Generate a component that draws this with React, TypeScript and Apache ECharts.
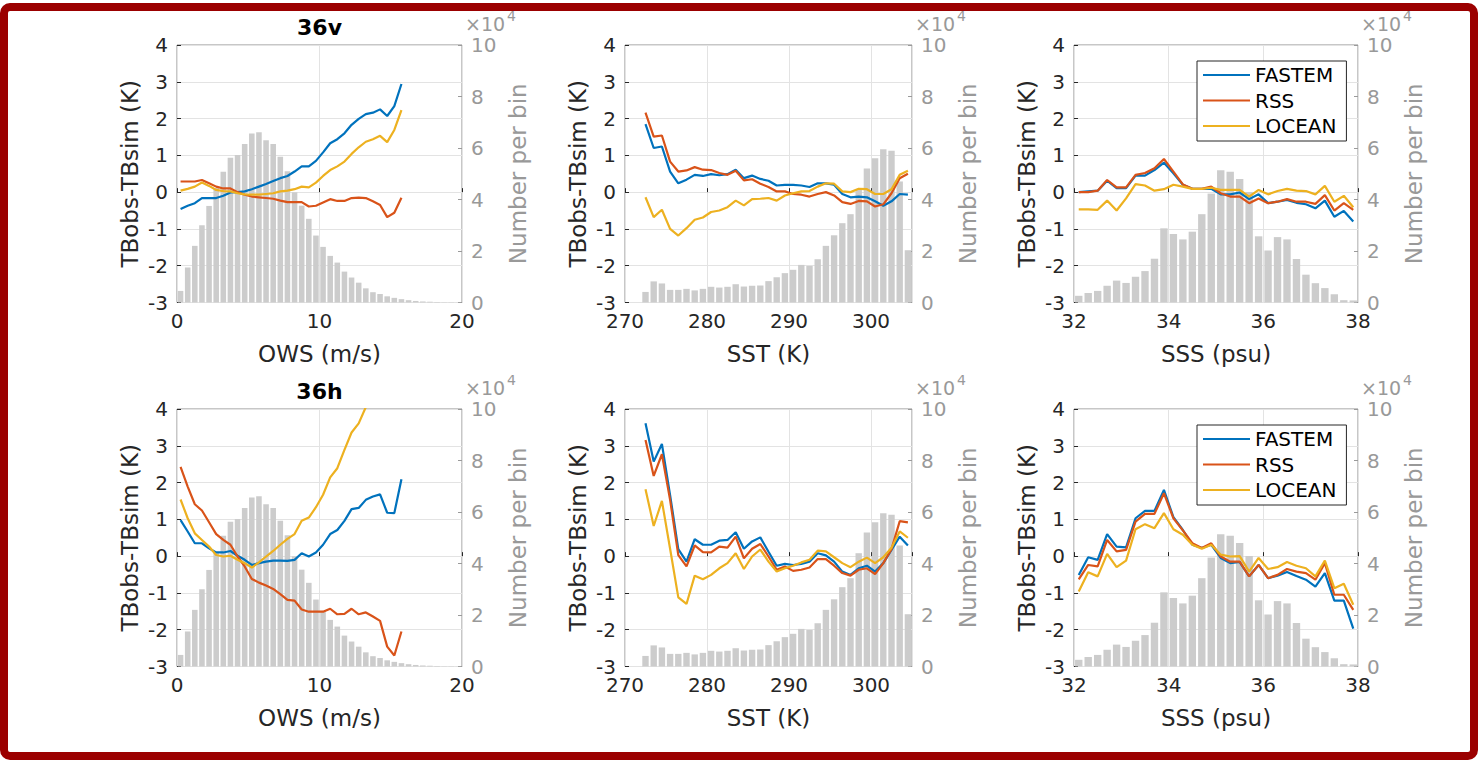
import React, { useEffect, useRef } from "react";
import * as echarts from "echarts";

// ---------- bin centers ----------
const owsX = [0.25,0.75,1.25,1.75,2.25,2.75,3.25,3.75,4.25,4.75,5.25,5.75,6.25,6.75,7.25,7.75,8.25,8.75,9.25,9.75,10.25,10.75,11.25,11.75,12.25,12.75,13.25,13.75,14.25,14.75,15.25,15.75,16.25,16.75,17.25,17.75,18.25,18.75,19.25,19.75];
const sstX = [272.5,273.5,274.5,275.5,276.5,277.5,278.5,279.5,280.5,281.5,282.5,283.5,284.5,285.5,286.5,287.5,288.5,289.5,290.5,291.5,292.5,293.5,294.5,295.5,296.5,297.5,298.5,299.5,300.5,301.5,302.5,303.5,304.5];
const sssX = [32.1,32.3,32.5,32.7,32.9,33.1,33.3,33.5,33.7,33.9,34.1,34.3,34.5,34.7,34.9,35.1,35.3,35.5,35.7,35.9,36.1,36.3,36.5,36.7,36.9,37.1,37.3,37.5,37.7,37.9];

// ---------- histogram counts (x10^4) ----------
const owsCounts = [0.45,1.36,2.2,3.0,3.75,4.45,5.08,5.62,5.73,6.16,6.56,6.61,6.3,6.16,5.66,5.1,4.28,3.76,3.25,2.6,2.16,1.81,1.55,1.2,0.97,0.77,0.55,0.4,0.33,0.24,0.18,0.13,0.09,0.06,0.04,0.03,0.02,0.01,0.01,0.005];
const sstCounts = [0.41,0.82,0.74,0.49,0.49,0.53,0.47,0.53,0.61,0.58,0.61,0.71,0.62,0.65,0.66,0.83,0.98,1.14,1.27,1.46,1.42,1.68,2.2,2.61,3.08,3.43,4.4,5.2,5.6,5.95,5.89,4.7,2.03];
const sssCounts = [0.26,0.37,0.45,0.65,0.85,0.76,1.0,1.22,1.7,2.88,2.66,2.45,2.75,3.43,4.23,5.14,5.08,4.8,4.29,2.57,2.02,2.54,2.45,1.69,1.08,0.75,0.56,0.32,0.09,0.08];

// ---------- 36v ----------
const fastem36vOws = [-0.46,-0.37,-0.3,-0.16,-0.16,-0.16,-0.1,-0.01,0,0.02,0.08,0.15,0.22,0.3,0.38,0.44,0.56,0.7,0.7,0.85,1.08,1.33,1.44,1.6,1.83,1.99,2.12,2.16,2.25,2.07,2.34,2.94];
const rss36vOws = [0.29,0.29,0.29,0.33,0.24,0.15,0.1,0.1,0,-0.07,-0.12,-0.14,-0.16,-0.18,-0.23,-0.27,-0.27,-0.27,-0.39,-0.37,-0.28,-0.19,-0.24,-0.24,-0.16,-0.15,-0.16,-0.25,-0.35,-0.68,-0.56,-0.15];
const locean36vOws = [0.04,0.09,0.15,0.26,0.17,0.06,0.03,0.02,-0.03,-0.06,-0.07,-0.07,-0.05,-0.03,0.02,0.04,0.08,0.15,0.13,0.26,0.44,0.6,0.7,0.83,1.04,1.22,1.37,1.44,1.53,1.36,1.69,2.23];

const fastem36vSst = [1.85,1.2,1.24,0.56,0.24,0.34,0.47,0.44,0.49,0.46,0.49,0.61,0.38,0.45,0.36,0.31,0.18,0.2,0.2,0.18,0.14,0.24,0.24,0.2,-0.05,-0.14,-0.12,-0.14,-0.25,-0.37,-0.25,-0.05,-0.07];
const rss36vSst = [2.16,1.51,1.54,0.83,0.56,0.59,0.68,0.61,0.6,0.52,0.47,0.58,0.32,0.35,0.23,0.14,0.02,0.02,-0.05,-0.07,-0.12,-0.05,0,-0.09,-0.27,-0.32,-0.24,-0.25,-0.39,-0.33,-0.03,0.38,0.5];
const locean36vSst = [-0.14,-0.68,-0.48,-1.0,-1.18,-0.98,-0.75,-0.69,-0.54,-0.5,-0.41,-0.23,-0.36,-0.19,-0.18,-0.16,-0.23,-0.09,-0.03,0.02,0.03,0.15,0.24,0.23,0.02,0,0.09,0.08,-0.05,-0.05,0.08,0.47,0.58];

const fastem36vSss = [0.0,0.02,0.04,0.31,0.11,0.11,0.45,0.45,0.6,0.8,0.51,0.2,0.09,0.09,0.09,-0.06,-0.06,-0.01,-0.19,-0.06,-0.3,-0.26,-0.21,-0.29,-0.33,-0.44,-0.23,-0.67,-0.51,-0.8];
const rss36vSss = [0.0,0.0,0.04,0.33,0.13,0.13,0.47,0.52,0.65,0.9,0.56,0.21,0.09,0.09,0.15,-0.03,-0.12,-0.12,-0.3,-0.17,-0.3,-0.26,-0.19,-0.26,-0.26,-0.32,-0.08,-0.5,-0.3,-0.48];
const locean36vSss = [-0.47,-0.47,-0.48,-0.23,-0.5,-0.17,0.22,0.18,0.04,0.08,0.2,0.15,0.09,0.09,0.12,0.06,0.06,0.06,-0.12,0.06,-0.06,0.03,0.09,0.04,0.03,-0.06,0.17,-0.26,-0.1,-0.41];

// ---------- 36h ----------
const fastem36hOws = [0.98,0.67,0.35,0.35,0.21,0.1,0.1,0.14,0.01,-0.1,-0.24,-0.19,-0.15,-0.12,-0.12,-0.13,-0.1,0.08,-0.01,0.1,0.31,0.6,0.71,0.96,1.28,1.31,1.53,1.62,1.68,1.18,1.17,2.09];
const rss36hOws = [2.43,1.89,1.41,1.24,0.92,0.6,0.44,0.31,-0.01,-0.28,-0.62,-0.72,-0.8,-0.89,-1.03,-1.19,-1.21,-1.45,-1.51,-1.51,-1.51,-1.43,-1.58,-1.57,-1.43,-1.58,-1.53,-1.64,-1.76,-2.46,-2.7,-2.05];
const locean36hOws = [1.54,1.03,0.62,0.44,0.26,0.03,-0.01,0.01,-0.1,-0.19,-0.31,-0.17,-0.01,0.14,0.31,0.47,0.6,0.96,1.05,1.33,1.67,2.14,2.39,2.89,3.36,3.61,4.05,4.5,4.9,5.3,5.6,6.2];

const fastem36hSst = [3.61,2.57,3.05,1.66,0.19,-0.15,0.46,0.31,0.31,0.42,0.44,0.65,0.2,0.4,0.51,0.12,-0.26,-0.21,-0.24,-0.21,-0.15,0.08,0.02,-0.15,-0.42,-0.51,-0.33,-0.26,-0.42,-0.19,0.17,0.53,0.29];
const rss36hSst = [3.16,2.18,2.77,1.53,0.03,-0.28,0.29,0.11,0.1,0.26,0.23,0.53,-0.06,0.2,0.33,-0.01,-0.37,-0.28,-0.4,-0.37,-0.31,-0.08,-0.08,-0.26,-0.46,-0.53,-0.37,-0.33,-0.49,-0.19,0.19,0.95,0.92];
const locean36hSst = [1.82,0.82,1.5,0.2,-1.12,-1.3,-0.53,-0.63,-0.51,-0.33,-0.19,0.08,-0.35,-0.01,0.18,-0.15,-0.42,-0.33,-0.26,-0.17,-0.1,0.15,0.13,-0.03,-0.19,-0.3,-0.15,-0.04,-0.19,-0.03,0.23,0.67,0.5];

const fastem36hSss = [-0.51,-0.03,-0.1,0.6,0.26,0.24,1.03,1.23,1.23,1.8,1.06,0.71,0.31,0.22,0.31,-0.05,-0.19,-0.16,-0.55,-0.24,-0.6,-0.53,-0.43,-0.54,-0.64,-0.83,-0.46,-1.21,-1.21,-1.97];
const rss36hSss = [-0.63,-0.24,-0.28,0.44,0.13,0.17,0.94,1.15,1.15,1.71,1.03,0.7,0.35,0.22,0.35,-0.01,-0.15,-0.15,-0.55,-0.24,-0.6,-0.51,-0.35,-0.42,-0.46,-0.64,-0.19,-1.05,-1.05,-1.46];
const locean36hSss = [-0.96,-0.44,-0.55,0.06,-0.3,-0.12,0.73,0.87,0.76,1.17,0.73,0.58,0.31,0.2,0.31,0.04,-0.01,0.0,-0.42,-0.05,-0.35,-0.3,-0.16,-0.26,-0.33,-0.55,-0.12,-0.87,-0.75,-1.32];

// ---------- axes / labels ----------
const seriesNames = ["FASTEM", "RSS", "LOCEAN"];
const seriesColors = ["#0072BD", "#D95319", "#EDB120"];
const rowTitles = ["36v", "36h"];
const leftAxisName = "TBobs-TBsim (K)";
const rightAxisName = "Number per bin";
const yTicks = { min: -3, max: 4, interval: 1 };
const countTicks = { min: 0, max: 10, interval: 2 };
const xAxesDef = [
  { name: "OWS (m/s)", min: 0, max: 20, interval: 10, binWidth: 0.5, x: owsX, counts: owsCounts },
  { name: "SST (K)", min: 270, max: 305, interval: 10, binWidth: 1, x: sstX, counts: sstCounts },
  { name: "SSS (psu)", min: 32, max: 38, interval: 2, binWidth: 0.2, x: sssX, counts: sssCounts },
];
const lineData = [
  [
    [fastem36vOws, rss36vOws, locean36vOws],
    [fastem36vSst, rss36vSst, locean36vSst],
    [fastem36vSss, rss36vSss, locean36vSss],
  ],
  [
    [fastem36hOws, rss36hOws, locean36hOws],
    [fastem36hSst, rss36hSst, locean36hSst],
    [fastem36hSss, rss36hSss, locean36hSss],
  ],
];

// ---------- layout ----------
const cols = [
  { left: 177, width: 285 },
  { left: 625, width: 287 },
  { left: 1074, width: 284 },
];
const rows = [
  { top: 45, height: 257.5 },
  { top: 409, height: 257.5 },
];

const FONT = "DejaVu Sans";
const INK = "#262626";
const GRAYTXT = "#999999";
const GRID = "#e3e3e3";

function buildOption() {
  const grid: any[] = [];
  const xAxis: any[] = [];
  const yAxis: any[] = [];
  const series: any[] = [];
  const graphic: any[] = [];
  const legend: any[] = [];

  rows.forEach((r, ri) => {
    cols.forEach((c, ci) => {
      const gi = grid.length;
      const def = xAxesDef[ci];
      grid.push({
        left: c.left,
        top: r.top,
        width: c.width,
        height: r.height,
        show: true,
        borderColor: "#8f8f8f",
        borderWidth: 1,
        backgroundColor: "transparent",
      });
      xAxis.push({
        gridIndex: gi,
        type: "value",
        min: def.min,
        max: def.max,
        interval: def.interval,
        name: def.name,
        nameLocation: "middle",
        nameGap: 40,
        nameTextStyle: { fontSize: 23, color: INK, fontFamily: FONT },
        axisLine: { show: false },
        axisTick: { show: true, inside: true, length: 4, lineStyle: { color: INK } },
        axisLabel: {
          fontSize: 20,
          color: INK,
          margin: 8,
          fontFamily: FONT,
          formatter: (v: number) =>
            (v - def.min) % def.interval === 0 ? String(v) : "",
        },
        splitLine: { show: true, lineStyle: { color: GRID, width: 1 } },
      });
      yAxis.push({
        gridIndex: gi,
        type: "value",
        position: "left",
        min: yTicks.min,
        max: yTicks.max,
        interval: yTicks.interval,
        name: leftAxisName,
        nameLocation: "middle",
        nameGap: 36,
        nameTextStyle: { fontSize: 23, color: INK, fontFamily: FONT },
        axisLine: { show: false },
        axisTick: { show: true, inside: true, length: 4, lineStyle: { color: INK } },
        axisLabel: { fontSize: 20, color: INK, margin: 9, fontFamily: FONT },
        splitLine: { show: true, lineStyle: { color: GRID, width: 1 } },
      });
      yAxis.push({
        gridIndex: gi,
        type: "value",
        position: "right",
        min: countTicks.min,
        max: countTicks.max,
        interval: countTicks.interval,
        name: rightAxisName,
        nameLocation: "middle",
        nameGap: 44,
        nameTextStyle: { fontSize: 23, color: GRAYTXT, fontFamily: FONT },
        axisLine: { show: false },
        axisTick: { show: true, inside: true, length: 4, lineStyle: { color: "#9a9a9a" } },
        axisLabel: { fontSize: 20, color: GRAYTXT, margin: 9, fontFamily: FONT },
        splitLine: { show: false },
      });
      const pxPerUnit = c.width / (def.max - def.min);
      series.push({
        type: "bar",
        name: "count",
        xAxisIndex: gi,
        yAxisIndex: gi * 2 + 1,
        data: def.x.map((x, i) => [x, def.counts[i]]),
        barWidth: pxPerUnit * def.binWidth * 0.78,
        itemStyle: { color: "#cccccc" },
        silent: true,
        z: 1,
      });
      lineData[ri][ci].forEach((ys, si) => {
        series.push({
          type: "line",
          name: seriesNames[si],
          xAxisIndex: gi,
          yAxisIndex: gi * 2,
          data: ys.map((y, i) => [def.x[i], y]),
          showSymbol: false,
          symbol: "none",
          clip: true,
          lineStyle: { color: seriesColors[si], width: 2.2 },
          itemStyle: { color: seriesColors[si] },
          z: 3,
        });
      });
      // x10^4 exponent label
      graphic.push({
        type: "text",
        x: c.left + c.width + 3,
        y: r.top - 12,
        style: {
          text: "×10",
          fontSize: 19,
          fontFamily: FONT,
          fill: GRAYTXT,
          textAlign: "left",
          textVerticalAlign: "bottom",
        },
        silent: true,
      });
      graphic.push({
        type: "text",
        x: c.left + c.width + 45,
        y: r.top - 22,
        style: {
          text: "4",
          fontSize: 14,
          fontFamily: FONT,
          fill: GRAYTXT,
          textAlign: "left",
          textVerticalAlign: "bottom",
        },
        silent: true,
      });
    });
    // row title
    graphic.push({
      type: "text",
      x: cols[0].left + cols[0].width / 2,
      y: r.top - 18,
      style: {
        text: rowTitles[ri],
        fontSize: 22,
        fontWeight: "bold",
        fontFamily: FONT,
        fill: "#000",
        textAlign: "center",
        textVerticalAlign: "middle",
      },
      silent: true,
    });
    legend.push({
      show: true,
      orient: "vertical",
      left: 1197,
      top: r.top + 16,
      padding: [4, 10, 5, 6],
      itemGap: 5.5,
      itemWidth: 47,
      itemHeight: 2,
      icon: "rect",
      selectedMode: false,
      backgroundColor: "#ffffff",
      borderColor: INK,
      borderWidth: 1,
      data: seriesNames,
      textStyle: { fontSize: 20, color: "#000", fontFamily: FONT },
    });
  });

  // red frame
  graphic.push({
    type: "rect",
    shape: { x: 4, y: 7, width: 1470, height: 749, r: 6 },
    style: { fill: "none", stroke: "#9b0000", lineWidth: 8 },
    silent: true,
    z: 100,
  });

  return {
    animation: false,
    backgroundColor: "#ffffff",
    textStyle: { fontFamily: FONT },
    grid,
    xAxis,
    yAxis,
    series,
    legend,
    graphic,
  };
}

export default function App() {
  const ref = useRef<HTMLDivElement>(null);
  useEffect(() => {
    if (!ref.current) return;
    const chart = echarts.init(ref.current, undefined, { renderer: "svg" });
    chart.setOption(buildOption() as any);
    return () => chart.dispose();
  }, []);
  return (
    <div
      ref={ref}
      style={{ position: "fixed", left: 0, top: 0, width: 1481, height: 763, background: "#fff" }}
    />
  );
}
